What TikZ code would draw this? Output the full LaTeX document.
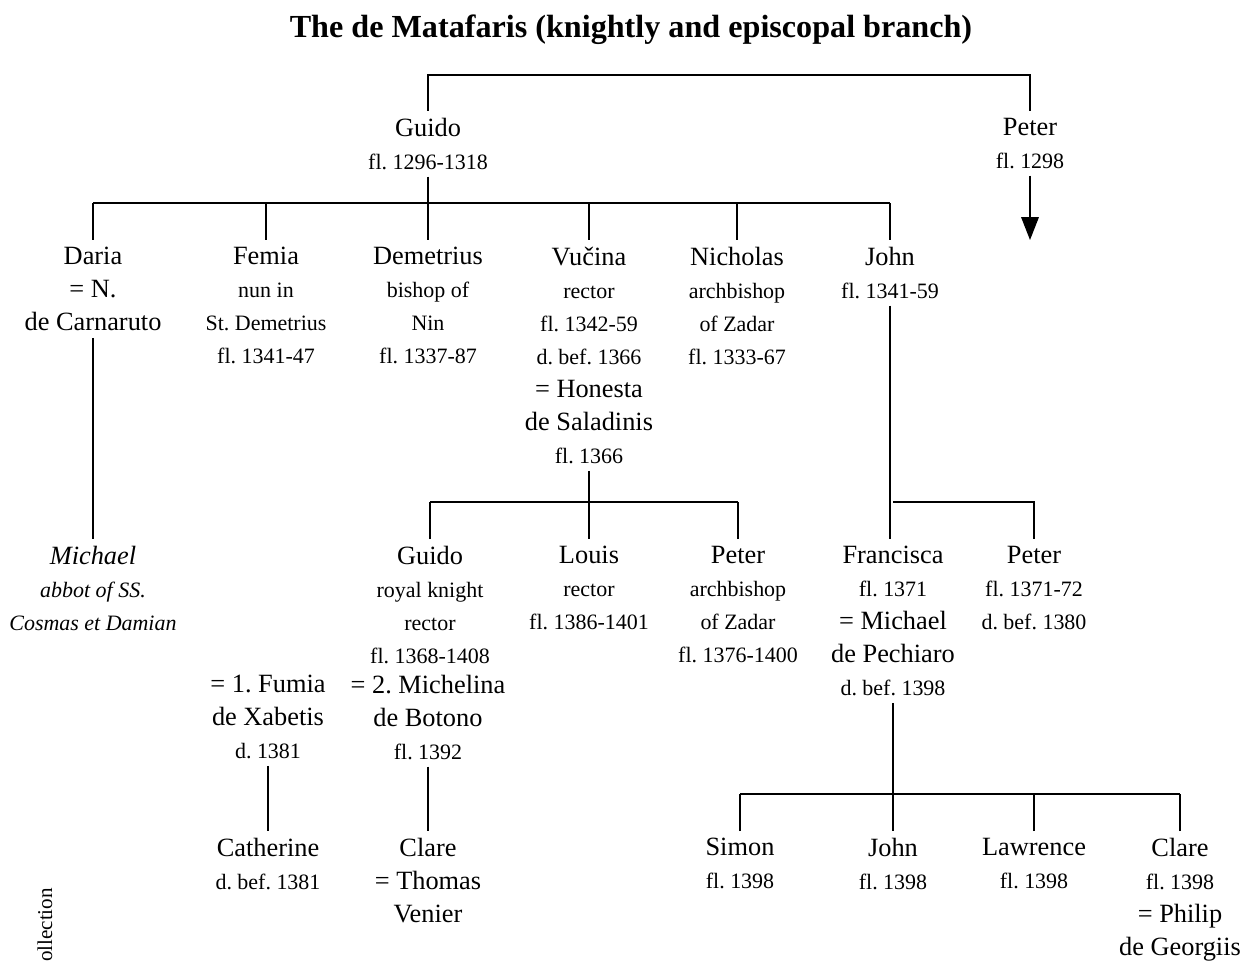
\documentclass[tikz,border=0pt]{standalone}
\usepackage{fontspec}
\setmainfont{Liberation Serif}
\usetikzlibrary{arrows.meta}
\newcommand{\smalltxt}[1]{{\fontsize{12.5}{18.8}\selectfont #1}}
\frenchspacing

\begin{document}
\begin{tikzpicture}[x=0.02cm, y=-0.02cm,
	person/.style = {anchor=north, align=center, inner sep=0pt, outer sep=4pt,
		font=\fontsize{15}{18.8}\selectfont},
	link/.style = {line width=0.75pt},
	]
	\useasboundingbox (0,0) rectangle (1247,962);

	\node (title) at (631,30) {\fontsize{18.3}{22}\selectfont\bfseries
		The de Matafaris (knightly and episcopal branch)};

	% first generation
	\node[person] (guido) at (428,111) {Guido\\ \smalltxt{fl. 1296-1318}};
	\node[person] (peter) at (1030,111) {Peter\\ \smalltxt{fl. 1298}};

	% children of Guido
	\node[person] (daria) at (93,240) {Daria\\ = N.\\ de Carnaruto};
	\node[person] (femia) at (266,240) {Femia\\ \smalltxt{nun in}\\
		\smalltxt{St. Demetrius}\\ \smalltxt{fl. 1341-47}};
	\node[person] (demetrius) at (428,240) {Demetrius\\ \smalltxt{bishop of}\\
		\smalltxt{Nin}\\ \smalltxt{fl. 1337-87}};
	\node[person] (vucina) at (589,240) {Vučina\\ \smalltxt{rector}\\
		\smalltxt{fl. 1342-59}\\ \smalltxt{d. bef. 1366}\\ = Honesta\\
		de Saladinis\\ \smalltxt{fl. 1366}};
	\node[person] (nicholas) at (737,240) {Nicholas\\ \smalltxt{archbishop}\\
		\smalltxt{of Zadar}\\ \smalltxt{fl. 1333-67}};
	\node[person] (johnA) at (890,240) {John\\ \smalltxt{fl. 1341-59}};

	% grandchildren
	\node[person, font=\fontsize{15}{18.8}\selectfont\itshape] (michael) at (93,539)
		{Michael\\ \smalltxt{abbot of SS.}\\ \smalltxt{Cosmas et Damian}};
	\node[person] (guidoB) at (430,539) {Guido\\ \smalltxt{royal knight}\\
		\smalltxt{rector}\\ \smalltxt{fl. 1368-1408}};
	\node[person] (louis) at (589,539) {Louis\\ \smalltxt{rector}\\
		\smalltxt{fl. 1386-1401}};
	\node[person] (peterB) at (738,539) {Peter\\ \smalltxt{archbishop}\\
		\smalltxt{of Zadar}\\ \smalltxt{fl. 1376-1400}};
	\node[person] (francisca) at (893,539) {Francisca\\ \smalltxt{fl. 1371}\\
		= Michael\\ de Pechiaro\\ \smalltxt{d. bef. 1398}};
	\node[person] (peterC) at (1034,539) {Peter\\ \smalltxt{fl. 1371-72}\\
		\smalltxt{d. bef. 1380}};

	% wives of Guido
	\node[person] (fumia) at (268,668) {= 1. Fumia\\ de Xabetis\\ \smalltxt{d. 1381}};
	\node[person] (michelina) at (428,668) {= 2. Michelina\\ de Botono\\ \smalltxt{fl. 1392}};

	% last generation
	\node[person] (catherine) at (268,831) {Catherine\\ \smalltxt{d. bef. 1381}};
	\node[person] (clareA) at (428,831) {Clare\\ = Thomas\\ Venier};
	\node[person] (simon) at (740,831) {Simon\\ \smalltxt{fl. 1398}};
	\node[person] (johnB) at (893,831) {John\\ \smalltxt{fl. 1398}};
	\node[person] (lawrence) at (1034,831) {Lawrence\\ \smalltxt{fl. 1398}};
	\node[person] (clareB) at (1180,831) {Clare\\ \smalltxt{fl. 1398}\\
		= Philip\\ de Georgiis};

	\node[rotate=90, font=\fontsize{12}{14}\selectfont] (stamp) at (45,925) {ollection};

	% bus heights
	\coordinate (bus0) at (0,75);
	\coordinate (bus1) at (0,203);
	\coordinate (bus2) at (0,502);
	\coordinate (bus3) at (0,794);
	\coordinate (peterline) at (1030,240);

	% connectors
	\draw[link] (guido.north) -- (guido.north |- bus0) -- (peter.north |- bus0) -- (peter.north);
	\draw[link, -{Triangle[width=10pt,length=13pt]}] (peter.south) -- (peterline);

	\draw[link] (guido.south) -- (demetrius.north);
	\draw[link] (daria.north |- bus1) -- (johnA.north |- bus1);
	\foreach \c in {daria,femia,vucina,nicholas,johnA}
		\draw[link] (\c.north) -- (\c.north |- bus1);

	\draw[link] (daria.south) -- (michael.north);

	\draw[link] (vucina.south) -- (louis.north);
	\draw[link] (guidoB.north |- bus2) -- (peterB.north |- bus2);
	\foreach \c in {guidoB,peterB}
		\draw[link] (\c.north) -- (\c.north |- bus2);

	\draw[link] (johnA.south) -- (johnA.south |- francisca.north);
	\draw[link] (francisca.north |- bus2) -- (peterC.north |- bus2) -- (peterC.north);

	\draw[link] (fumia.south) -- (catherine.north);
	\draw[link] (michelina.south) -- (clareA.north);

	\draw[link] (francisca.south) -- (johnB.north);
	\draw[link] (simon.north |- bus3) -- (clareB.north |- bus3);
	\foreach \c in {simon,lawrence,clareB}
		\draw[link] (\c.north) -- (\c.north |- bus3);
\end{tikzpicture}
\end{document}
